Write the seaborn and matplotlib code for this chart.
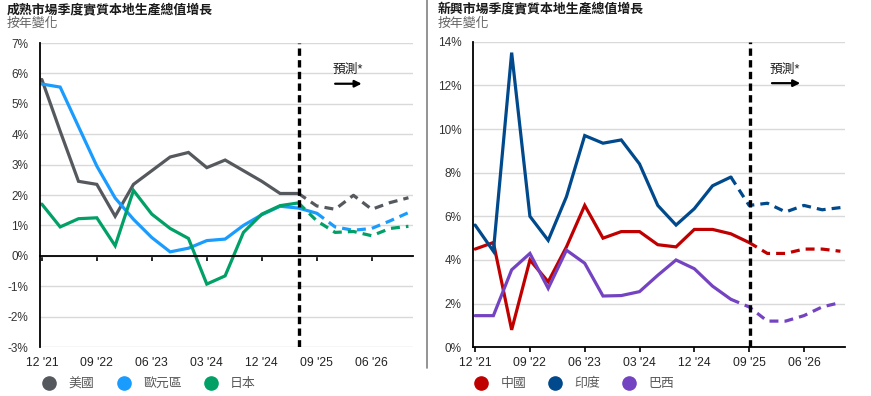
import numpy as np
import pandas as pd
import matplotlib
matplotlib.use("Agg")
import matplotlib.pyplot as plt
from matplotlib.lines import Line2D
import seaborn as sns

# ---- DATOS (% interanual) ----
quarters = ["12 '21", "03 '22", "06 '22", "09 '22", "12 '22", "03 '23", "06 '23",
            "09 '23", "12 '23", "03 '24", "06 '24", "09 '24", "12 '24", "03 '25",
            "06 '25", "09 '25", "12 '25", "03 '26", "06 '26", "09 '26", "12 '26"]

us = [5.8, 4.1, 2.45, 2.35, 1.3, 2.35, 2.8, 3.25, 3.4, 2.9, 3.15, 2.8, 2.45, 2.05,
      2.05, 1.64, 1.53, 1.99, 1.53, 1.75, 1.91]
euro = [5.65, 5.55, 4.25, 2.95, 1.9, 1.2, 0.6, 0.13, 0.25, 0.5, 0.55, 1.0, 1.35, 1.63,
        1.57, 1.4, 0.95, 0.84, 0.9, 1.15, 1.42]
japan = [1.7, 0.95, 1.22, 1.25, 0.33, 2.15, 1.37, 0.9, 0.57, -0.93, -0.66, 0.77, 1.37,
         1.65, 1.74, 1.15, 0.77, 0.8, 0.66, 0.9, 0.97]

china = [4.5, 4.8, 0.8, 4.0, 3.0, 4.6, 6.5, 5.0, 5.3, 5.3, 4.7, 4.6, 5.4, 5.4, 5.2,
         4.8, 4.3, 4.3, 4.5, 4.5, 4.4]
india = [5.6, 4.4, 13.5, 6.0, 4.9, 6.9, 9.7, 9.35, 9.5, 8.4, 6.5, 5.6, 6.35, 7.4, 7.8,
         6.5, 6.6, 6.2, 6.5, 6.3, 6.4]
brazil = [1.45, 1.45, 3.55, 4.3, 2.7, 4.45, 3.85, 2.35, 2.37, 2.55, 3.3, 4.0, 3.6, 2.8,
          2.2, 1.85, 1.2, 1.2, 1.45, 1.85, 2.05]

# último trimestre con dato real (índice), el resto es previsión
left_series = [("美國", us, 14, "#55595e"),
               ("歐元區", euro, 15, "#1a9cff"),
               ("日本", japan, 14, "#00a066")]
right_series = [("中國", china, 15, "#c00000"),
                ("印度", india, 14, "#00498c"),
                ("巴西", brazil, 14, "#7443c2")]

titles = ["成熟市場季度實質本地生產總值增長", "新興市場季度實質本地生產總值增長"]
subtitle = "按年變化"
forecast_label = "預測*"


def to_long(series):
    rows = []
    for name, vals, last, _ in series:
        for i, v in enumerate(vals):
            rows.append({"q": i, "value": v, "country": name,
                         "actual": i <= last, "forecast": i >= last})
    return pd.DataFrame(rows)


sns.set_theme(style="white")
plt.rcParams["font.family"] = ["Liberation Sans", "Noto Sans CJK TC", "DejaVu Sans"]

fig = plt.figure(figsize=(8.71, 3.96), dpi=100)
W, H = 871, 396
ax_l = fig.add_axes([40 / W, 49 / H, 373 / W, 304 / H])
ax_r = fig.add_axes([473.3 / W, 48.7 / H, 371.7 / W, 305.6 / H])

panels = [
    (ax_l, left_series, (-3, 7), np.arange(-3, 8, 1), 14.05),
    (ax_r, right_series, (0, 14), np.arange(0, 15, 2), 15.05),
]

dash_pat = (0, (2.8, 1.9))
tick_pos = list(range(0, 21, 3))

for ax, series, ylim, yticks, vline_x in panels:
    df = to_long(series)
    for name, _, _, color in series:
        sub = df[df["country"] == name]
        sns.lineplot(data=sub[sub["actual"]], x="q", y="value", ax=ax, color=color,
                     lw=2.3, estimator=None, solid_joinstyle="miter")
        sns.lineplot(data=sub[sub["forecast"]], x="q", y="value", ax=ax, color=color,
                     lw=2.3, estimator=None, linestyle=dash_pat)

    ax.axvline(vline_x, color="black", lw=2.4, linestyle=(0, (2.2, 1.3)), zorder=5)

    ax.set_xlim(-0.1, 20.25)
    ax.set_ylim(*ylim)
    ax.set_yticks(yticks)
    ax.set_yticklabels([f"{v}%" for v in yticks], fontsize=8.5, color="#333333")
    ax.tick_params(axis="y", length=0, pad=8.5)
    ax.yaxis.grid(True, color="#d9d9d9", lw=1.0)
    ax.set_axisbelow(True)
    ax.set_xlabel("")
    ax.set_ylabel("")

    for s in ["top", "right"]:
        ax.spines[s].set_visible(False)
    ax.spines["left"].set_color("black")
    ax.spines["left"].set_linewidth(1.3)
    ax.spines["bottom"].set_position(("data", 0))
    ax.spines["bottom"].set_color("black")
    ax.spines["bottom"].set_linewidth(1.3)
    ax.set_xticks(tick_pos)
    ax.tick_params(axis="x", direction="out", length=3.5, width=1.2, color="black",
                   labelbottom=False, bottom=True)

    sec = ax.secondary_xaxis("bottom")
    sec.set_xticks(tick_pos)
    sec.set_xticklabels([quarters[i] for i in tick_pos], fontsize=8.7, color="#222222")
    sec.tick_params(length=0, pad=7)
    sec.spines["bottom"].set_visible(False)

# flechas de previsión
ax_l.annotate("", xy=(17.6, 5.66), xytext=(15.85, 5.66),
              arrowprops=dict(arrowstyle="-|>", color="black", lw=1.6, mutation_scale=10))
ax_l.text(15.85, 6.1, forecast_label, fontsize=9.2, color="#1a1a1a", va="center", ha="left")
ax_r.annotate("", xy=(17.95, 12.1), xytext=(16.1, 12.1),
              arrowprops=dict(arrowstyle="-|>", color="black", lw=1.6, mutation_scale=10))
ax_r.text(16.1, 12.7, forecast_label, fontsize=9.2, color="#1a1a1a", va="center", ha="left")

# títulos
for x0, t in [(7 / W, titles[0]), (438 / W, titles[1])]:
    fig.text(x0, 1 - 10 / H, t, fontsize=9.3, fontweight="bold", color="#1a1a1a",
             va="center", ha="left")
    fig.text(x0, 1 - 24 / H, subtitle, fontsize=9.3, color="#666666",
             va="center", ha="left")

# leyendas
for ax, series, x0 in [(ax_l, left_series, 43 / W), (ax_r, right_series, 474.5 / W)]:
    handles = [Line2D([], [], marker="o", ls="", ms=9.5, color=c) for _, _, _, c in series]
    labels = [n for n, _, _, _ in series]
    fig.legend(handles, labels, loc="center left", bbox_to_anchor=(x0, 1 - 384 / H),
               ncol=3, frameon=False, fontsize=9.3, handlelength=1.0, handletextpad=1.0,
               columnspacing=1.75, borderaxespad=0, borderpad=0, labelcolor="#595959")

# separador entre paneles
fig.add_artist(Line2D([426.7 / W, 426.7 / W], [1 - 368 / H, 1.0], color="#808080", lw=1.2))

fig.savefig("out.png", dpi=100)
